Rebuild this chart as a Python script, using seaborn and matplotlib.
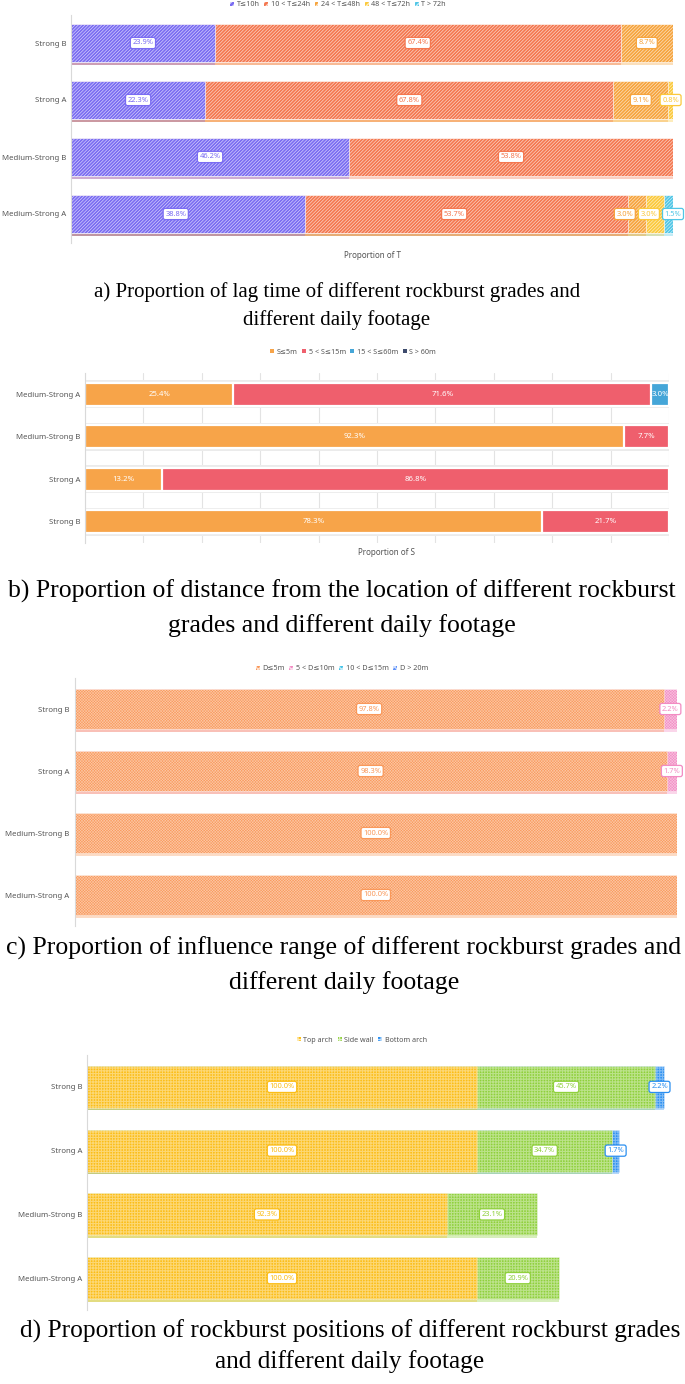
import numpy as np
import pandas as pd
import matplotlib.pyplot as plt
import matplotlib.transforms as mtransforms
from matplotlib.patches import Patch
import seaborn as sns

# --- figure size in pixels ---
W, H = 685, 1384

# --- data ---
# a) lag time
grades_a = ["Strong B", "Strong A", "Medium-Strong B", "Medium-Strong A"]
series_a = ["T≤10h", "10 < T≤24h", "24 < T≤48h", "48 < T≤72h", "T > 72h"]
t_le10 = [23.9, 22.3, 46.2, 38.8]
t_10_24 = [67.4, 67.8, 53.8, 53.7]
t_24_48 = [8.7, 9.1, 0.0, 3.0]
t_48_72 = [0.0, 0.8, 0.0, 3.0]
t_gt72 = [0.0, 0.0, 0.0, 1.5]

# b) distance
grades_b = ["Medium-Strong A", "Medium-Strong B", "Strong A", "Strong B"]
series_b = ["S≤5m", "5 < S≤15m", "15 < S≤60m", "S > 60m"]
s_le5 = [25.4, 92.3, 13.2, 78.3]
s_5_15 = [71.6, 7.7, 86.8, 21.7]
s_15_60 = [3.0, 0.0, 0.0, 0.0]
s_gt60 = [0.0, 0.0, 0.0, 0.0]

# c) influence range
grades_c = ["Strong B", "Strong A", "Medium-Strong B", "Medium-Strong A"]
series_c = ["D≤5m", "5 < D≤10m", "10 < D≤15m", "D > 20m"]
d_le5 = [97.8, 98.3, 100.0, 100.0]
d_5_10 = [2.2, 1.7, 0.0, 0.0]
d_10_15 = [0.0, 0.0, 0.0, 0.0]
d_gt20 = [0.0, 0.0, 0.0, 0.0]

# d) positions
grades_d = ["Strong B", "Strong A", "Medium-Strong B", "Medium-Strong A"]
series_d = ["Top arch", "Side wall", "Bottom arch"]
top_arch = [100.0, 100.0, 92.3, 100.0]
side_wall = [45.7, 34.7, 23.1, 20.9]
bottom_arch = [2.2, 1.7, 0.0, 0.0]

colors_a = ["#7a6cf2", "#f4774f", "#f6a43d", "#fbc93c", "#50c6e6"]
colors_b = ["#f7a449", "#ef5f6d", "#45a6d8", "#3d4b6d"]
colors_c = ["#f9985a", "#f28cc3", "#45c4e8", "#5b8ff9"]
colors_d = ["#fbbd16", "#8fd03c", "#2b8ff0"]

sns.set_theme(style="white")
plt.rcParams["font.family"] = ["Noto Sans", "DejaVu Sans"]

fig = plt.figure(figsize=(W / 100, H / 100), dpi=100)


def add_axes_px(left, right, top, bottom):
    return fig.add_axes([left / W, 1 - bottom / H, (right - left) / W, (bottom - top) / H])


def spread_labels(xs, minsep, xmax):
    xs = list(xs)
    for i in range(1, len(xs)):
        if xs[i] < xs[i - 1] + minsep:
            xs[i] = xs[i - 1] + minsep
    if xs and xs[-1] > xmax:
        shift = xs[-1] - xmax
        xs = [x - shift for x in xs]
    return xs


def stacked(ax, cats, series_vals, colors, width, hatch, hatch_alpha=0.7,
            hatch_lw=0.5, lw=0.6, shadow=True):
    vals = [np.array(v, dtype=float) for v in series_vals]
    lefts = np.cumsum([np.zeros(len(cats))] + vals[:-1], axis=0)
    ends = [l + v for l, v in zip(lefts, vals)]
    offset = mtransforms.ScaledTranslation(0, -2.5 / 100, fig.dpi_scale_trans)
    layers = [("shadow", i) for i in reversed(range(len(vals)))] if shadow else []
    layers += [("bar", i) for i in reversed(range(len(vals)))]
    for kind, i in layers:
        mask = vals[i] > 0
        if not mask.any():
            continue
        df = pd.DataFrame({"grade": np.array(cats)[mask], "end": ends[i][mask]})
        with plt.rc_context({"hatch.linewidth": hatch_lw}):
            sns.barplot(data=df, x="end", y="grade", order=cats, orient="h",
                        color=colors[i], saturation=1, width=width,
                        errorbar=None, ax=ax)
        for p in ax.containers[-1]:
            if kind == "shadow":
                p.set_alpha(0.35)
                p.set_linewidth(0)
                p.set_transform(ax.transData + offset)
            else:
                p.set_edgecolor((1, 1, 1, hatch_alpha if hatch else 1))
                p.set_linewidth(lw)
                if hatch:
                    p.set_hatch(hatch)
                    if hasattr(p, "set_hatch_linewidth"):
                        p.set_hatch_linewidth(hatch_lw)
    return lefts, vals


def boxed_labels(ax, lefts, vals, colors, minsep=None, xmax=None, boxed=True,
                 fs=5.4):
    n = len(lefts[0])
    for j in range(n):
        xs, items = [], []
        for i in range(len(vals)):
            if vals[i][j] > 0:
                xs.append(lefts[i][j] + vals[i][j] / 2)
                items.append(i)
        if minsep is not None:
            xs = spread_labels(xs, minsep, xmax)
        for x, i in zip(xs, items):
            if boxed:
                ax.text(x, j, f"{vals[i][j]:.1f}%", ha="center", va="center",
                        fontsize=fs, color=colors[i], fontweight="bold",
                        bbox=dict(boxstyle="round,pad=0.28", fc="white",
                                  ec=colors[i], lw=0.9), zorder=5)
            else:
                ax.text(x, j, f"{vals[i][j]:.1f}%", ha="center", va="center",
                        fontsize=fs, color="white", zorder=5)


def style_axes(ax, xmax):
    ax.set_xlim(0, xmax)
    ax.set_ylim(3.5, -0.5)
    ax.set_xlabel("")
    ax.set_ylabel("")
    ax.set_xticks([])
    for s in ["top", "right", "bottom"]:
        ax.spines[s].set_visible(False)
    ax.spines["left"].set_color("#d9d9d9")
    ax.spines["left"].set_linewidth(0.8)
    ax.tick_params(axis="y", length=0, pad=3.5, labelsize=5.6, labelcolor="#555555")


def add_legend(labels, colors, cx, cy, hatch=None):
    handles = [Patch(facecolor=c, edgecolor=(1, 1, 1, 0.7), hatch=hatch, lw=0)
               for c in colors]
    fig.legend(handles, labels, loc="center", bbox_to_anchor=(cx / W, 1 - cy / H),
               ncol=len(labels), frameon=False, fontsize=5.2, handlelength=0.55,
               handleheight=0.55, handletextpad=0.35, columnspacing=0.65,
               labelcolor="#555555")


def caption(lines, cx, cy, size, spacing):
    fig.text(cx / W, 1 - cy / H, lines, ha="center", va="center",
             fontsize=size, family="Liberation Serif", color="black",
             linespacing=spacing)


# ---------- a) ----------
ax = add_axes_px(71, 673, 14.5, 242.5)
lefts, vals = stacked(ax, grades_a, [t_le10, t_10_24, t_24_48, t_48_72, t_gt72],
                      colors_a, 0.67, "//////////", hatch_alpha=0.75, hatch_lw=0.45)
boxed_labels(ax, lefts, vals, colors_a, minsep=4.0, xmax=100)
style_axes(ax, 100)
add_legend(series_a, colors_a, 338, 5, hatch="//////")
fig.text(372 / W, 1 - 255 / H, "Proportion of T", ha="center", va="center",
         fontsize=5.8, color="#555555")
caption("a) Proportion of lag time of different rockburst grades and\ndifferent daily footage",
        337, 306, 15, 1.5)

# ---------- b) ----------
ax = add_axes_px(85, 669, 373, 543)
bg = pd.DataFrame({"grade": grades_b, "total": [100.0] * 4})
sns.barplot(data=bg, x="total", y="grade", order=grades_b, orient="h",
            color="#ebebeb", saturation=1, width=0.66, errorbar=None, ax=ax)
for p in ax.containers[-1]:
    p.set_linewidth(0)
lefts, vals = stacked(ax, grades_b, [s_le5, s_5_15, s_15_60, s_gt60], colors_b,
                      0.53, None, lw=1.6, shadow=False)
boxed_labels(ax, lefts, vals, colors_b, boxed=False, fs=5.6)
style_axes(ax, 100)
ax.set_xticks(np.arange(0, 101, 10))
ax.set_xticklabels([])
ax.tick_params(axis="x", length=0)
ax.grid(axis="x", color="#e3e3e3", lw=0.8)
ax.set_axisbelow(True)
add_legend(series_b, colors_b, 353, 352)
fig.text(386 / W, 1 - 552 / H, "Proportion of S", ha="center", va="center",
         fontsize=5.8, color="#555555")
caption("b) Proportion of distance from the location of different rockburst\ngrades and different daily footage",
        342, 608, 18.5, 1.6)

# ---------- c) ----------
ax = add_axes_px(74.5, 677, 678, 926)
lefts, vals = stacked(ax, grades_c, [d_le5, d_5_10, d_10_15, d_gt20], colors_c,
                      0.66, "xxxxxxxxxxxx", hatch_alpha=0.45, hatch_lw=0.4)
boxed_labels(ax, lefts, vals, colors_c, minsep=3.5, xmax=101)
style_axes(ax, 100)
add_legend(series_c, colors_c, 342, 669, hatch="xxxxxx")
caption("c) Proportion of influence range of different rockburst grades and\ndifferent daily footage",
        344, 965, 18.5, 1.6)

# ---------- d) ----------
ax = add_axes_px(87, 672, 1055, 1310)
lefts, vals = stacked(ax, grades_d, [top_arch, side_wall, bottom_arch], colors_d,
                      0.66, "++++++", hatch_alpha=0.4, hatch_lw=0.8)
boxed_labels(ax, lefts, vals, colors_d)
style_axes(ax, 150)
add_legend(series_d, colors_d, 362, 1040, hatch="++++")
caption("d) Proportion of rockburst positions of different rockburst grades\nand different daily footage",
        350, 1346, 18.3, 1.4)

fig.savefig("out.png", dpi=100)
